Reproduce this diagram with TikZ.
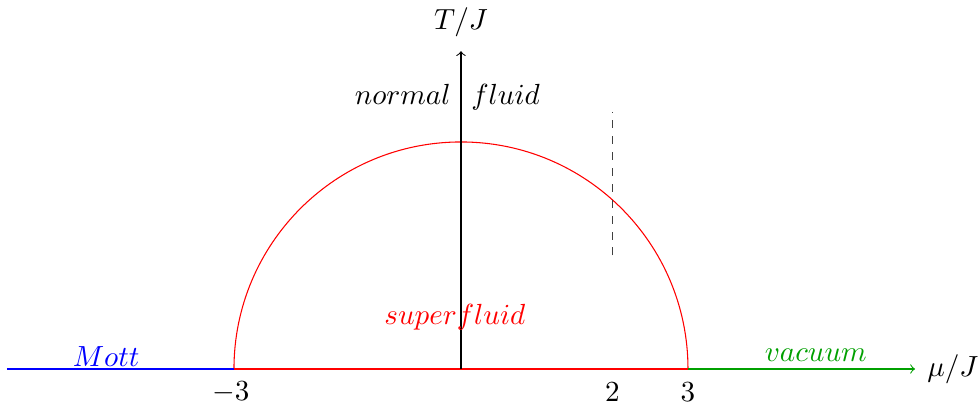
\documentclass[tikz,border=0pt]{standalone}
\definecolor{vacgreen}{RGB}{0,160,0}
\begin{document}
\begin{tikzpicture}[
  lbl/.style={inner sep=0pt, font=\fontsize{11}{13}\selectfont},
  axis/.style={->}
]
\useasboundingbox (-6.092,-0.476) rectangle (6.859,4.876);
% coordinates
\coordinate (L) at (-6,0);
\coordinate (A) at (-3,0);
\coordinate (O) at (0,0);
\coordinate (B) at (3,0);
\coordinate (R) at (6,0);
\coordinate (Top) at (0,4.2);
\coordinate (D1) at (2,1.5);
\coordinate (D2) at (2,3.4);
% phase boundary
\draw[red] (A) arc[start angle=180, end angle=0, radius=3];
\draw[blue] (L) -- (A);
\draw[red] (A) -- (B);
\draw[vacgreen, axis] (B) -- (R);
\draw[axis] (O) -- (Top);
\draw[dashed, black!75] (D1) -- (D2);
% labels
\node[lbl] (tj) at (0,4.58) {$T/J$};
\node[lbl] (mj) at (6.5,0) {$\mu/J$};
\node[lbl, anchor=base east] (nor) at (-0.13,3.5) {$normal$};
\node[lbl, anchor=base west] (flu) at (0.13,3.5) {$fluid$};
\node[lbl, red] (sf) at (-0.08,0.69) {$superfluid$};
\node[lbl, blue] (mott) at (-4.69,0.16) {$Mott$};
\node[lbl, vacgreen] (vac) at (4.69,0.18) {$vacuum$};
\node[lbl] (m3) at (-3.04,-0.31) {$-3$};
\node[lbl] (t2) at (2,-0.31) {$2$};
\node[lbl] (t3) at (3,-0.31) {$3$};
\end{tikzpicture}
\end{document}
